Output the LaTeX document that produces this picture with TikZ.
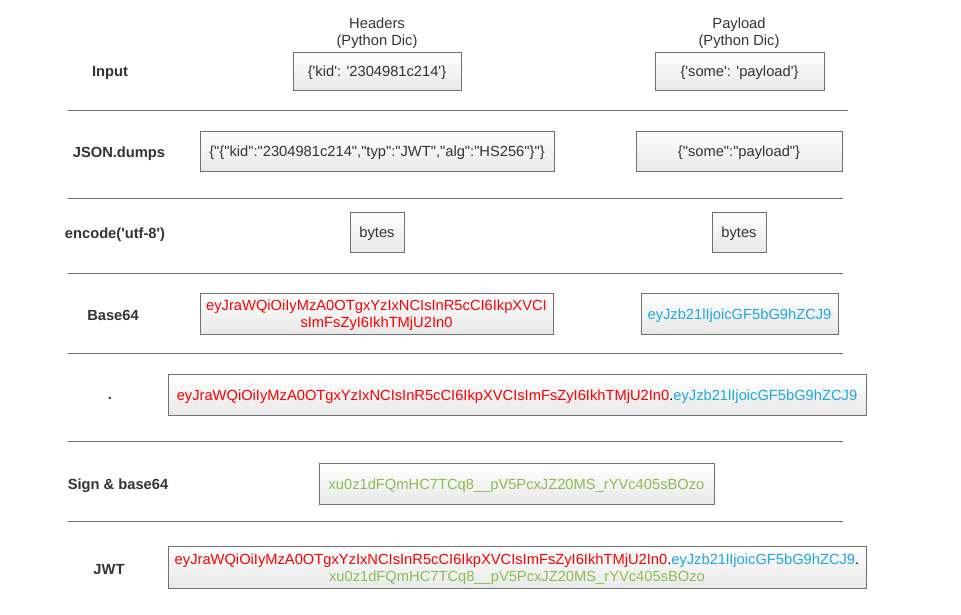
\documentclass[tikz,border=0pt]{standalone}
\usepackage{fontspec}
\setmainfont{Liberation Sans}[Ligatures=TeXOff]
\definecolor{jred}{RGB}{255,0,0}
\definecolor{jblue}{RGB}{30,168,230}
\definecolor{jgreen}{RGB}{143,188,82}
\definecolor{txt}{RGB}{51,51,51}
\definecolor{bord}{RGB}{112,112,112}
\newcommand\lw[1]{\raisebox{-2pt}[\height][\depth]{#1}}
\begin{document}
\begin{tikzpicture}[x=1pt,y=-1pt,
  every node/.style={font=\fontsize{14.7}{17}\selectfont, text=txt, inner sep=0pt},
  box/.style={draw=bord, line width=1pt, top color=white, bottom color=black!9, align=center},
  rowlabel/.style={font=\fontsize{14.7}{17}\selectfont\bfseries},
  sep/.style={draw=bord, line width=1pt}]
\useasboundingbox (0,0) rectangle (961,614);
% headings
\node[align=center] (hhead) at (377,31) {\lw{Headers}\\\lw{(Python Dic)}};
\node[align=center] (phead) at (739,31) {\lw{Payload}\\\lw{(Python Dic)}};
% row labels
\node[rowlabel] (lin) at (110,71) {\lw{Input}};
\node[rowlabel] (ljs) at (119,152) {\lw{JSON.dumps}};
\node[rowlabel] (lby) at (115,233) {\lw{encode('utf-8')}};
\node[rowlabel] (lb64) at (113,313) {\lw{Base64}};
\node[rowlabel] (ldot) at (110,396) {\lw{.}};
\node[rowlabel] (lsig) at (118,484) {\lw{Sign \& base64}};
\node[rowlabel] (ljwt) at (109,568) {\lw{JWT}};
% separators
\draw[sep] (68,110) -- (848,110);
\draw[sep] (68,198.5) -- (843,198.5);
\draw[sep] (68,273) -- (843,273);
\draw[sep] (68,353) -- (843,353);
\draw[sep] (68,441.5) -- (843,441.5);
\draw[sep] (68,521.5) -- (843,521.5);
% boxes
\node[box, minimum width=168pt, minimum height=38pt] (hin) at (377,71) {\lw{\{'kid': '2304981c214'\}}};
\node[box, minimum width=169pt, minimum height=38pt] (pin) at (739.5,71) {\lw{\{'some': 'payload'\}}};
\node[box, minimum width=354pt, minimum height=40pt] (hjs) at (377,151) {\lw{\{"\{"kid":"2304981c214","typ":"JWT","alg":"HS256"\}"\}}};
\node[box, minimum width=206pt, minimum height=40pt] (pjs) at (739,151) {\lw{\{"some":"payload"\}}};
\node[box, minimum width=54pt, minimum height=40pt] (hby) at (377,232) {\lw{bytes}};
\node[box, minimum width=54pt, minimum height=40pt] (pby) at (739,232) {\lw{bytes}};
\node[box, minimum width=353pt, minimum height=41pt, text=jred] (hb64) at (376.5,313.5) {\lw{eyJraWQiOiIyMzA0OTgxYzIxNCIsInR5cCI6IkpXVCI}\\\lw{sImFsZyI6IkhTMjU2In0}};
\node[box, minimum width=197pt, minimum height=41pt, text=jblue] (pb64) at (739.5,313.5) {\lw{eyJzb21lIjoicGF5bG9hZCJ9}};
\node[box, minimum width=698pt, minimum height=41pt] (dot) at (517,394.5) {\lw{\textcolor{jred}{eyJraWQiOiIyMzA0OTgxYzIxNCIsInR5cCI6IkpXVCIsImFsZyI6IkhTMjU2In0}\textcolor{black}{.}\textcolor{jblue}{eyJzb21lIjoicGF5bG9hZCJ9}}};
\node[box, minimum width=395pt, minimum height=41pt, text=jgreen] (sig) at (516.5,483.5) {\lw{xu0z1dFQmHC7TCq8\_\_pV5PcxJZ20MS\_rYVc405sBOzo}};
\node[box, minimum width=698pt, minimum height=42pt] (jwt) at (517,567) {\lw{\textcolor{jred}{eyJraWQiOiIyMzA0OTgxYzIxNCIsInR5cCI6IkpXVCIsImFsZyI6IkhTMjU2In0}\textcolor{black}{.}\textcolor{jblue}{eyJzb21lIjoicGF5bG9hZCJ9}\textcolor{black}{.}}\\\lw{\textcolor{jgreen}{xu0z1dFQmHC7TCq8\_\_pV5PcxJZ20MS\_rYVc405sBOzo}}};
\end{tikzpicture}
\end{document}
